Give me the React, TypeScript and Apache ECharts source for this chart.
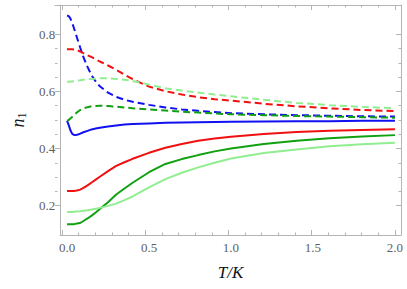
import React, { useEffect, useRef } from "react";
import * as echarts from "echarts";

const T = [0, 0.01, 0.02, 0.03, 0.04, 0.05, 0.06, 0.08, 0.1, 0.125, 0.15, 0.175, 0.2, 0.25, 0.3, 0.35, 0.4, 0.5, 0.6, 0.7, 0.8, 0.9, 1.0, 1.2, 1.4, 1.6, 1.8, 2.0];

const blueDashed = [0.866, 0.864, 0.856, 0.842, 0.826, 0.808, 0.79, 0.754, 0.72, 0.686, 0.656, 0.635, 0.618, 0.596, 0.581, 0.571, 0.564, 0.553, 0.544, 0.537, 0.532, 0.528, 0.524, 0.52, 0.517, 0.515, 0.513, 0.512];
const redDashed = [0.748, 0.748, 0.748, 0.748, 0.747, 0.746, 0.745, 0.74, 0.734, 0.727, 0.72, 0.713, 0.705, 0.691, 0.676, 0.659, 0.643, 0.617, 0.601, 0.589, 0.58, 0.573, 0.568, 0.557, 0.548, 0.541, 0.535, 0.531];
const lightGreenDashed = [0.634, 0.634, 0.635, 0.635, 0.636, 0.637, 0.638, 0.639, 0.641, 0.643, 0.644, 0.645, 0.646, 0.646, 0.644, 0.641, 0.637, 0.624, 0.611, 0.603, 0.596, 0.589, 0.583, 0.571, 0.56, 0.552, 0.546, 0.541];
const greenDashed = [0.497, 0.5, 0.505, 0.51, 0.515, 0.521, 0.526, 0.535, 0.541, 0.545, 0.548, 0.549, 0.55, 0.549, 0.547, 0.544, 0.541, 0.537, 0.533, 0.529, 0.526, 0.523, 0.52, 0.517, 0.514, 0.512, 0.51, 0.508];
const blueSolid = [0.497, 0.483, 0.465, 0.453, 0.448, 0.447, 0.448, 0.452, 0.457, 0.462, 0.467, 0.47, 0.473, 0.477, 0.481, 0.484, 0.486, 0.488, 0.49, 0.491, 0.492, 0.493, 0.494, 0.495, 0.496, 0.496, 0.497, 0.497];
const redSolid = [0.251, 0.251, 0.251, 0.251, 0.251, 0.252, 0.253, 0.256, 0.262, 0.271, 0.281, 0.291, 0.301, 0.321, 0.339, 0.352, 0.364, 0.385, 0.403, 0.416, 0.427, 0.435, 0.441, 0.451, 0.458, 0.462, 0.465, 0.468];
const greenSolid = [0.135, 0.135, 0.135, 0.135, 0.135, 0.136, 0.137, 0.139, 0.146, 0.155, 0.165, 0.176, 0.188, 0.212, 0.239, 0.26, 0.28, 0.317, 0.346, 0.363, 0.377, 0.39, 0.4, 0.416, 0.427, 0.436, 0.442, 0.447];
const lightGreenSolid = [0.178, 0.178, 0.178, 0.178, 0.178, 0.179, 0.179, 0.18, 0.182, 0.184, 0.186, 0.189, 0.192, 0.199, 0.207, 0.219, 0.232, 0.264, 0.293, 0.315, 0.334, 0.35, 0.365, 0.384, 0.397, 0.408, 0.415, 0.42];

const xMajor = [0, 0.5, 1.0, 1.5, 2.0];
const yMajor = [0.2, 0.4, 0.6, 0.8];

const X_MIN = -0.042;
const X_MAX = 2.037;
const Y_MIN = 0.097;
const Y_MAX = 0.903;

const BLUE = "#1010f0";
const RED = "#f01010";
const GREEN = "#10a010";
const LIGHTGREEN = "#90ee90";

const FRAME = "#b4b4b4";
const LABEL = "#606060";
const SERIF = "Liberation Serif";

const LEFT = 55, RIGHT = 6, TOP = 5, BOTTOM = 54, W = 407, H = 289;

function App() {
  const ref = useRef<HTMLDivElement>(null);
  useEffect(() => {
    if (!ref.current) return;
    const chart = echarts.init(ref.current, undefined, { renderer: "svg" });

    const plotW = W - LEFT - RIGHT;
    const plotH = H - TOP - BOTTOM;
    const pxPerX = plotW / (X_MAX - X_MIN);
    const pxPerY = plotH / (Y_MAX - Y_MIN);
    const g1Left = LEFT + (xMajor[0] - X_MIN) * pxPerX;
    const g1Right = RIGHT + (X_MAX - xMajor[xMajor.length - 1]) * pxPerX;
    const g2Top = TOP + (Y_MAX - yMajor[yMajor.length - 1]) * pxPerY;
    const g2Bottom = BOTTOM + (yMajor[0] - Y_MIN) * pxPerY;

    const mk = (name: string, vals: number[], color: string, dashed: boolean) => ({
      name,
      type: "line",
      xAxisIndex: 0,
      yAxisIndex: 0,
      data: T.map((t, i) => [t, vals[i]]),
      showSymbol: false,
      lineStyle: { color, width: 2, type: dashed ? [7, 4] : "solid" },
    });

    const tickOnlyX = (pos: "bottom" | "top") => ({
      type: "value",
      gridIndex: 1,
      position: pos,
      min: xMajor[0],
      max: xMajor[xMajor.length - 1],
      interval: 0.5,
      axisLine: { show: false },
      splitLine: { show: false },
      axisLabel: { show: false },
      axisTick: { show: true, inside: true, length: 5, lineStyle: { color: FRAME, width: 1 } },
      minorTick: { show: true, splitNumber: 5, length: 2.5, lineStyle: { color: FRAME, width: 1 } },
    });
    const tickOnlyY = (pos: "left" | "right") => ({
      type: "value",
      gridIndex: 2,
      position: pos,
      min: yMajor[0],
      max: yMajor[yMajor.length - 1],
      interval: 0.2,
      axisLine: { show: false },
      splitLine: { show: false },
      axisLabel: { show: false },
      axisTick: { show: true, inside: true, length: 5, lineStyle: { color: FRAME, width: 1 } },
      minorTick: { show: true, splitNumber: 4, length: 2.5, lineStyle: { color: FRAME, width: 1 } },
    });
    const frameOnly = (pos: string, isX: boolean) => ({
      type: "value",
      gridIndex: 3,
      position: pos,
      min: 0,
      max: 1,
      axisLine: { show: true, onZero: false, lineStyle: { color: FRAME, width: 1 } },
      axisTick: { show: false },
      axisLabel: { show: false },
      splitLine: { show: false },
    });
    const hidden = (gridIndex: number) => ({ type: "value", gridIndex, show: false, min: 0, max: 1 });

    chart.setOption({
      animation: false,
      grid: [
        { left: LEFT, right: RIGHT, top: TOP, bottom: BOTTOM },
        { left: g1Left, right: g1Right, top: TOP, bottom: BOTTOM },
        { left: LEFT, right: RIGHT, top: g2Top, bottom: g2Bottom },
        { left: LEFT, right: RIGHT, top: TOP, bottom: BOTTOM },
      ],
      xAxis: [
        {
          type: "value",
          gridIndex: 0,
          min: X_MIN,
          max: X_MAX,
          axisLine: { show: true, onZero: false, lineStyle: { color: FRAME, width: 1 } },
          splitLine: { show: false },
          axisTick: { show: false },
          axisLabel: { customValues: xMajor, formatter: (v: number) => v.toFixed(1), color: LABEL, fontFamily: SERIF, fontSize: 13, margin: 6 },
          name: "T/K",
          nameLocation: "middle",
          nameGap: 29,
          nameTextStyle: { fontFamily: SERIF, fontStyle: "italic", fontSize: 17, color: "#111" },
        },
        tickOnlyX("bottom"),
        tickOnlyX("top"),
        hidden(2),
        frameOnly("top", true),
      ],
      yAxis: [
        {
          type: "value",
          gridIndex: 0,
          min: Y_MIN,
          max: Y_MAX,
          axisLine: { show: true, onZero: false, lineStyle: { color: FRAME, width: 1 } },
          splitLine: { show: false },
          axisTick: { show: false },
          axisLabel: { customValues: yMajor, formatter: (v: number) => v.toFixed(1), color: LABEL, fontFamily: SERIF, fontSize: 13, margin: 5 },
          name: "{i|n}{s|1}",
          nameLocation: "middle",
          nameGap: 28,
          nameTextStyle: {
            color: "#111",
            fontFamily: SERIF,
            rich: {
              i: { fontFamily: SERIF, fontStyle: "italic", fontSize: 18, color: "#111", lineHeight: 18 },
              s: { fontFamily: SERIF, fontSize: 12, color: "#111", lineHeight: 18, padding: [8, 0, 0, 0] },
            },
          },
        },
        hidden(1),
        tickOnlyY("left"),
        tickOnlyY("right"),
        frameOnly("right", false),
      ],
      series: [
        mk("blueSolid", blueSolid, BLUE, false),
        mk("redSolid", redSolid, RED, false),
        mk("greenSolid", greenSolid, GREEN, false),
        mk("lightGreenSolid", lightGreenSolid, LIGHTGREEN, false),
        mk("blueDashed", blueDashed, BLUE, true),
        mk("redDashed", redDashed, RED, true),
        mk("greenDashed", greenDashed, GREEN, true),
        mk("lightGreenDashed", lightGreenDashed, LIGHTGREEN, true),
      ],
    });
    return () => chart.dispose();
  }, []);
  return <div ref={ref} style={{ position: "absolute", left: 0, top: 0, width: W, height: H }} />;
}

export default App;
